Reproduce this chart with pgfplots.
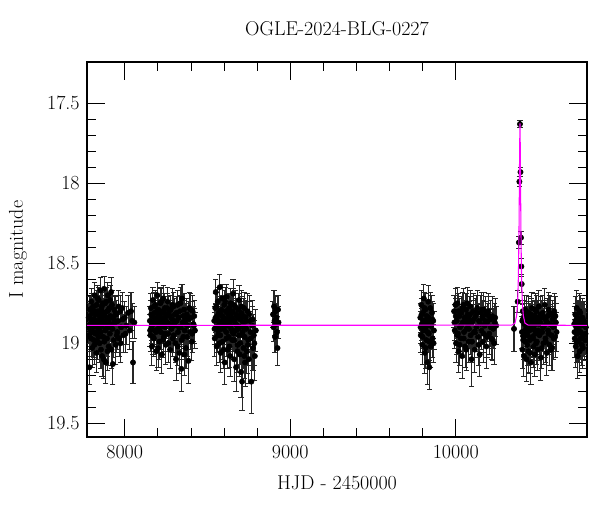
\documentclass[border=0pt]{standalone}
\usepackage{pgfplots}
\usepackage{pgfplotstable}
\pgfplotsset{compat=1.18}
\definecolor{modelc}{rgb}{1,0,1}

% OGLE photometry: HJD-2450000, I mag, error
\pgfplotstableread{
x y e
7782 18.84 0.09
7785 18.95 0.10
7787 19.15 0.11
7790 18.79 0.08
7792 18.88 0.09
7795 18.92 0.10
7798 18.74 0.08
7800 18.86 0.09
7803 19.03 0.12
7805 18.81 0.09
7808 18.90 0.10
7810 18.77 0.08
7813 18.98 0.11
7815 18.85 0.09
7818 18.70 0.08
7820 18.89 0.10
7823 18.94 0.10
7825 18.82 0.09
7828 19.06 0.12
7830 18.76 0.09
7833 18.88 0.10
7835 18.99 0.11
7838 18.80 0.09
7840 18.91 0.10
7843 18.73 0.08
7845 18.86 0.09
7848 19.00 0.12
7850 18.84 0.09
7853 18.67 0.08
7855 18.93 0.10
7858 18.79 0.09
7860 18.89 0.10
7863 19.08 0.13
7865 18.83 0.09
7868 18.75 0.08
7870 18.96 0.11
7873 19.10 0.12
7875 18.66 0.08
7878 18.87 0.10
7880 18.81 0.09
7883 18.92 0.10
7885 19.12 0.13
7888 18.74 0.09
7890 18.88 0.10
7893 18.97 0.11
7895 18.80 0.09
7898 18.70 0.08
7900 18.90 0.10
7903 19.02 0.12
7905 18.85 0.09
7908 18.78 0.09
7910 18.94 0.11
7913 18.83 0.09
7916 18.88 0.10
7920 19.04 0.12
7923 18.76 0.09
7926 18.91 0.10
7930 18.84 0.10
7934 18.98 0.11
7938 18.79 0.09
7942 18.87 0.10
7946 19.01 0.12
7950 18.82 0.09
7955 18.93 0.11
7960 18.86 0.10
7966 18.97 0.11
7972 18.80 0.10
7978 18.90 0.11
7985 18.78 0.10
7992 18.95 0.11
8000 18.84 0.10
8010 18.89 0.12
8020 18.81 0.11
8030 18.92 0.12
8045 18.86 0.11
8050 19.12 0.13
8058 18.87 0.10
7783.5 18.90 0.10
7788.5 18.83 0.09
7796.5 18.97 0.11
7801.5 18.78 0.09
7806.5 18.93 0.10
7811.5 18.85 0.10
7816.5 19.01 0.12
7821.5 18.80 0.09
7826.5 18.87 0.10
7831.5 18.93 0.11
7836.5 18.72 0.08
7841.5 18.96 0.11
7846.5 18.82 0.09
7851.5 18.90 0.10
7856.5 19.04 0.12
7861.5 18.77 0.09
7866.5 18.86 0.10
7871.5 18.81 0.09
7876.5 18.99 0.11
7881.5 18.75 0.09
7886.5 18.91 0.10
7891.5 18.84 0.10
7896.5 19.05 0.12
7901.5 18.79 0.09
7906.5 18.89 0.10
7911.5 18.73 0.09
7918 18.68 0.09
7928 19.13 0.13
7936 18.86 0.10
7944 18.81 0.10
7952 18.95 0.11
7963 18.77 0.10
7975 19.00 0.12
7988 18.85 0.11
8005 18.94 0.12
8038 18.80 0.12
8152 18.86 0.09
8155 18.95 0.10
8158 18.78 0.09
8161 18.90 0.10
8164 19.02 0.12
8167 18.83 0.09
8170 18.73 0.08
8173 18.88 0.10
8176 18.97 0.11
8179 18.81 0.09
8182 18.92 0.10
8185 18.76 0.09
8188 18.86 0.10
8191 19.05 0.12
8194 18.84 0.09
8197 18.70 0.08
8200 18.91 0.10
8203 18.79 0.09
8206 18.88 0.10
8209 18.99 0.11
8212 18.82 0.09
8215 18.75 0.09
8218 18.93 0.11
8221 18.85 0.10
8224 19.07 0.12
8227 18.80 0.09
8230 18.89 0.10
8233 18.72 0.08
8236 18.96 0.11
8239 18.84 0.10
8242 18.78 0.09
8245 18.90 0.10
8248 19.01 0.12
8251 18.83 0.09
8254 18.87 0.10
8258 18.74 0.09
8262 18.94 0.11
8266 18.81 0.10
8270 18.88 0.10
8274 19.04 0.12
8278 18.79 0.09
8282 18.91 0.11
8286 18.85 0.10
8290 18.97 0.11
8294 18.77 0.09
8298 18.89 0.10
8302 18.82 0.10
8306 19.00 0.12
8310 19.10 0.13
8314 18.86 0.10
8318 18.76 0.09
8322 18.93 0.11
8326 18.84 0.10
8330 19.06 0.13
8334 18.80 0.10
8338 18.90 0.11
8342 19.16 0.14
8346 18.72 0.09
8350 18.87 0.10
8354 18.96 0.12
8358 18.79 0.10
8362 18.92 0.11
8366 18.85 0.10
8370 19.03 0.13
8375 18.82 0.10
8380 18.89 0.11
8385 19.11 0.14
8390 18.78 0.10
8395 18.93 0.11
8400 18.84 0.10
8405 18.99 0.12
8410 18.80 0.10
8415 18.88 0.11
8420 18.83 0.10
8424 18.92 0.11
8153.5 18.92 0.10
8159.5 18.82 0.09
8165.5 18.88 0.10
8171.5 18.96 0.11
8177.5 18.77 0.09
8183.5 18.85 0.10
8189.5 18.93 0.11
8195.5 18.80 0.09
8201.5 19.03 0.12
8207.5 18.83 0.10
8213.5 18.90 0.10
8219.5 18.74 0.09
8225.5 18.87 0.10
8231.5 18.98 0.11
8237.5 18.81 0.10
8243.5 18.94 0.11
8249.5 18.86 0.10
8256 18.78 0.09
8264 19.00 0.12
8272 18.83 0.10
8280 18.89 0.11
8288 18.76 0.10
8296 18.95 0.11
8304 18.87 0.10
8312 18.81 0.10
8320 19.02 0.12
8328 18.90 0.11
8336 18.75 0.10
8344 18.98 0.12
8352 18.83 0.10
8360 19.07 0.13
8368 18.88 0.11
8378 18.96 0.12
8388 18.85 0.11
8398 18.79 0.10
8408 18.94 0.12
8418 18.89 0.11
8541 18.86 0.09
8544 18.97 0.11
8547 18.78 0.09
8550 18.68 0.08
8553 18.90 0.10
8556 19.02 0.12
8559 18.83 0.09
8562 18.74 0.09
8565 18.92 0.10
8568 18.81 0.09
8571 18.88 0.10
8574 18.65 0.08
8577 18.95 0.11
8580 19.06 0.12
8583 18.79 0.09
8586 18.87 0.10
8589 18.72 0.09
8592 18.99 0.11
8595 18.84 0.10
8598 18.91 0.10
8601 18.76 0.09
8604 19.12 0.14
8607 18.86 0.10
8610 18.80 0.09
8613 18.93 0.11
8616 18.71 0.08
8619 18.89 0.10
8622 19.04 0.12
8625 18.82 0.10
8628 18.96 0.11
8631 18.78 0.09
8634 18.87 0.10
8637 19.08 0.13
8640 18.75 0.09
8643 18.91 0.11
8646 18.84 0.10
8649 18.98 0.12
8652 18.80 0.10
8655 18.69 0.09
8658 18.94 0.11
8661 19.10 0.14
8664 18.86 0.10
8667 18.77 0.10
8670 18.92 0.11
8673 19.15 0.15
8676 18.83 0.10
8679 18.89 0.11
8682 19.01 0.13
8685 18.79 0.10
8688 18.95 0.12
8691 18.73 0.09
8694 19.07 0.14
8697 18.85 0.11
8700 18.90 0.11
8703 19.18 0.16
8706 18.81 0.10
8709 19.24 0.18
8712 18.93 0.12
8715 18.87 0.11
8718 19.03 0.13
8721 18.78 0.10
8724 18.96 0.12
8727 19.12 0.15
8730 18.84 0.11
8734 18.91 0.12
8738 19.05 0.14
8742 18.80 0.11
8746 18.98 0.13
8750 19.10 0.15
8755 18.86 0.12
8760 18.93 0.13
8765 19.24 0.20
8770 18.89 0.12
8775 19.03 0.14
8780 18.95 0.13
8786 19.08 0.15
8792 18.92 0.13
8542.5 18.91 0.10
8548.5 18.84 0.09
8554.5 18.77 0.09
8560.5 18.95 0.11
8566.5 18.86 0.10
8572.5 19.00 0.12
8578.5 18.80 0.09
8584.5 18.91 0.10
8590.5 18.83 0.10
8596.5 19.04 0.12
8602.5 18.87 0.10
8608.5 18.74 0.09
8614.5 18.97 0.11
8620.5 18.85 0.10
8626.5 18.79 0.10
8632.5 19.02 0.13
8638.5 18.89 0.11
8644.5 18.81 0.10
8650.5 18.93 0.11
8656.5 18.76 0.10
8662.5 18.98 0.12
8668.5 18.88 0.11
8674.5 18.82 0.10
8680.5 19.05 0.13
8686.5 18.91 0.12
8692.5 18.84 0.11
8698.5 19.00 0.13
8704.5 18.77 0.10
8710.5 18.95 0.12
8716.5 18.83 0.11
8722.5 19.08 0.14
8728.5 18.90 0.12
8736 18.86 0.12
8744 19.01 0.13
8752 18.82 0.12
8762 18.97 0.13
8772 18.85 0.12
8783 19.00 0.14
8896 18.82 0.08
8899 18.90 0.09
8902 18.77 0.10
8905 18.86 0.09
8908 18.96 0.10
8911 18.80 0.09
8914 18.88 0.09
8917 18.84 0.09
8920 18.93 0.10
8923 19.03 0.11
8926 18.79 0.09
8929 18.87 0.10
9786 18.84 0.09
9789 18.95 0.11
9792 18.76 0.09
9795 18.88 0.10
9798 19.01 0.12
9801 18.81 0.09
9804 18.92 0.11
9807 18.72 0.09
9810 18.86 0.10
9813 19.06 0.13
9816 18.79 0.10
9819 18.90 0.11
9822 18.98 0.12
9825 18.83 0.10
9828 19.12 0.14
9831 18.87 0.11
9834 18.74 0.10
9837 18.94 0.12
9840 19.15 0.14
9843 18.85 0.11
9846 18.78 0.10
9849 19.02 0.13
9852 18.89 0.11
9856 18.81 0.11
9860 18.97 0.12
9864 18.86 0.11
9868 18.92 0.12
9787.5 18.90 0.10
9793.5 18.82 0.10
9799.5 18.96 0.11
9805.5 18.86 0.10
9811.5 18.78 0.10
9817.5 19.03 0.13
9823.5 18.88 0.11
9829.5 18.93 0.12
9835.5 18.84 0.11
9841.5 18.99 0.12
9847.5 18.89 0.11
9858 18.85 0.11
9866 19.00 0.12
9990 18.80 0.10
9994 18.92 0.11
9998 18.76 0.10
10002 19.00 0.12
10006 18.86 0.11
10010 18.75 0.10
10014 18.94 0.12
10018 19.05 0.13
10022 18.83 0.11
10026 18.90 0.11
10030 18.97 0.12
10034 18.81 0.10
10038 19.08 0.14
10042 18.87 0.11
10046 18.76 0.10
10050 18.93 0.12
10054 18.84 0.11
10058 19.02 0.13
10062 18.79 0.10
10066 18.91 0.12
10070 18.75 0.10
10074 18.88 0.11
10078 18.99 0.13
10082 18.85 0.11
10086 18.82 0.11
10090 18.95 0.12
10095 19.10 0.17
10100 18.87 0.11
10105 18.80 0.11
10110 18.93 0.12
10115 19.04 0.14
10120 18.83 0.11
10125 18.90 0.12
10130 18.78 0.11
10135 18.96 0.13
10140 18.86 0.11
10145 19.07 0.14
10150 18.81 0.11
10155 18.92 0.12
10160 18.84 0.11
10165 18.99 0.13
10170 18.79 0.11
10175 18.89 0.12
10180 18.82 0.11
10185 19.02 0.14
10190 18.87 0.12
10196 18.80 0.11
10202 18.94 0.13
10208 18.85 0.12
10214 18.97 0.13
10220 18.83 0.12
10226 18.91 0.12
10232 19.00 0.13
10238 18.84 0.12
10244 18.89 0.12
9992 18.87 0.11
10000 18.83 0.11
10008 18.95 0.12
10016 18.80 0.11
10024 19.01 0.13
10032 18.89 0.12
10040 18.78 0.10
10048 18.97 0.12
10056 18.86 0.11
10064 19.04 0.13
10072 18.82 0.11
10080 18.91 0.12
10088 18.77 0.10
10098 18.99 0.13
10108 18.85 0.12
10118 18.93 0.12
10128 18.81 0.11
10138 19.01 0.13
10148 18.88 0.12
10158 18.79 0.11
10168 18.94 0.12
10178 18.86 0.12
10188 18.96 0.13
10200 18.83 0.12
10212 18.90 0.12
10224 18.98 0.13
10236 18.87 0.12
10352 18.91 0.14
10374 18.74 0.07
10381.5 18.37 0.04
10384.5 17.99 0.03
10388 17.63 0.02
10391 17.93 0.03
10394.3 18.34 0.04
10396.5 18.52 0.05
10398.5 18.63 0.05
10400 18.93 0.10
10403 19.04 0.12
10405 18.80 0.07
10406 18.85 0.10
10409 18.96 0.11
10412 19.08 0.13
10415 18.88 0.10
10418 18.79 0.09
10421 18.99 0.12
10424 18.91 0.11
10427 19.10 0.14
10430 18.84 0.10
10433 18.95 0.11
10436 18.87 0.10
10439 19.05 0.13
10442 18.81 0.10
10445 18.92 0.11
10448 18.98 0.12
10451 18.86 0.10
10454 19.12 0.14
10457 18.89 0.11
10460 18.78 0.10
10463 18.96 0.12
10466 18.85 0.11
10469 19.02 0.13
10472 18.91 0.11
10475 18.83 0.10
10478 19.07 0.14
10481 18.94 0.12
10484 18.88 0.11
10487 18.80 0.10
10490 18.99 0.12
10493 18.86 0.11
10496 19.04 0.13
10499 18.92 0.12
10502 18.77 0.10
10506 18.95 0.12
10510 18.87 0.11
10514 19.09 0.14
10518 18.84 0.11
10522 18.93 0.12
10526 18.81 0.11
10530 19.00 0.13
10534 18.89 0.12
10538 18.76 0.10
10542 18.97 0.12
10546 18.86 0.11
10550 19.06 0.14
10554 18.83 0.11
10558 18.92 0.12
10562 18.79 0.11
10566 19.01 0.13
10570 18.88 0.12
10574 18.82 0.11
10578 18.95 0.12
10582 19.03 0.14
10586 18.85 0.12
10590 18.90 0.12
10595 18.80 0.11
10600 18.96 0.13
10605 18.87 0.12
10609 18.93 0.12
10401.5 18.86 0.10
10407.5 18.98 0.12
10413.5 18.83 0.10
10419.5 18.93 0.11
10425.5 18.80 0.10
10431.5 19.01 0.13
10437.5 18.90 0.11
10443.5 18.85 0.10
10449.5 19.06 0.13
10455.5 18.82 0.10
10461.5 18.91 0.11
10467.5 18.97 0.12
10473.5 18.87 0.11
10479.5 18.79 0.10
10485.5 19.00 0.13
10491.5 18.84 0.11
10497.5 18.93 0.12
10504 18.88 0.11
10512 18.82 0.11
10520 19.03 0.13
10528 18.90 0.12
10536 18.84 0.11
10544 18.99 0.13
10552 18.87 0.12
10560 18.94 0.12
10568 18.81 0.11
10576 19.04 0.13
10584 18.89 0.12
10592 18.97 0.13
10602 18.83 0.12
10716 18.88 0.11
10719 18.97 0.12
10722 18.82 0.11
10725 19.02 0.13
10728 18.90 0.12
10731 18.78 0.11
10734 18.94 0.12
10737 19.08 0.14
10740 18.85 0.11
10743 18.99 0.13
10746 18.87 0.12
10749 19.05 0.13
10752 18.81 0.11
10755 18.93 0.12
10758 18.89 0.12
10762 19.01 0.13
10766 18.84 0.12
10770 18.95 0.13
10775 18.86 0.12
10780 18.98 0.13
10786 18.90 0.12
10717.5 18.93 0.12
10723.5 18.86 0.11
10729.5 18.99 0.13
10735.5 18.84 0.11
10741.5 18.92 0.12
10747.5 18.80 0.11
10753.5 18.97 0.13
10760 18.86 0.12
10768 19.03 0.13
10778 18.88 0.12
10784 18.94 0.13
}\phot

% microlensing model curve
\pgfplotstableread{
x y
7772 18.888
10338 18.887
10358 18.874
10368 18.826
10374 18.738
10378 18.597
10380 18.477
10382 18.306
10384 18.068
10386 17.785
10388 17.626
10390 17.785
10392 18.068
10394 18.306
10396 18.477
10398 18.597
10402 18.738
10408 18.826
10418 18.874
10438 18.887
10793 18.888
}\model

\begin{document}
\begin{tikzpicture}
\useasboundingbox (-65.25pt,-56.25pt) rectangle (384.75pt,327.75pt);
\begin{axis}[
  width=375pt, height=281.25pt, scale only axis,
  xmin=7772, xmax=10793,
  ymin=17.242, ymax=19.586,
  y dir=reverse,
  clip mode=individual,
  scaled x ticks=false,
  axis line style={line width=1pt},
  xtick={8000,9000,10000}, minor x tick num=4,
  ytick={17.5,18,18.5,19,19.5}, minor y tick num=4,
  xticklabels={8000,9000,10000},
  yticklabels={17.5,18,18.5,19,19.5},
  tick align=inside, tick pos=both,
  major tick length=13.5pt, minor tick length=6.75pt,
  every tick/.style={black, line width=0.6pt},
  tick label style={font=\fontsize{15}{18}\selectfont},
  xticklabel style={yshift=-3pt},
  yticklabel style={xshift=-2pt},
  title={OGLE-2024-BLG-0227},
  title style={font=\fontsize{15}{18}\selectfont, at={(axis description cs:0.5,1.05)}, anchor=base},
  xlabel={HJD - 2450000},
  xlabel style={font=\fontsize{15}{18}\selectfont, at={(axis description cs:0.5,-0.139)}, anchor=base},
  ylabel={I magnitude},
  ylabel style={font=\fontsize{15}{18}\selectfont, at={(axis description cs:-0.128,0.5)}, anchor=base},
]
\addplot[only marks, mark=*, mark size=2pt, mark options={fill=black, draw=black},
  error bars/.cd, y dir=both, y explicit,
  error mark=-, error mark options={rotate=90, black!85, mark size=2pt, line width=0.7pt},
  error bar style={black!85, line width=0.8pt}]
  table[x=x, y=y, y error=e] {\phot};
\addplot[modelc, line width=0.8pt] table[x=x, y=y] {\model};
\end{axis}
\end{tikzpicture}
\end{document}
